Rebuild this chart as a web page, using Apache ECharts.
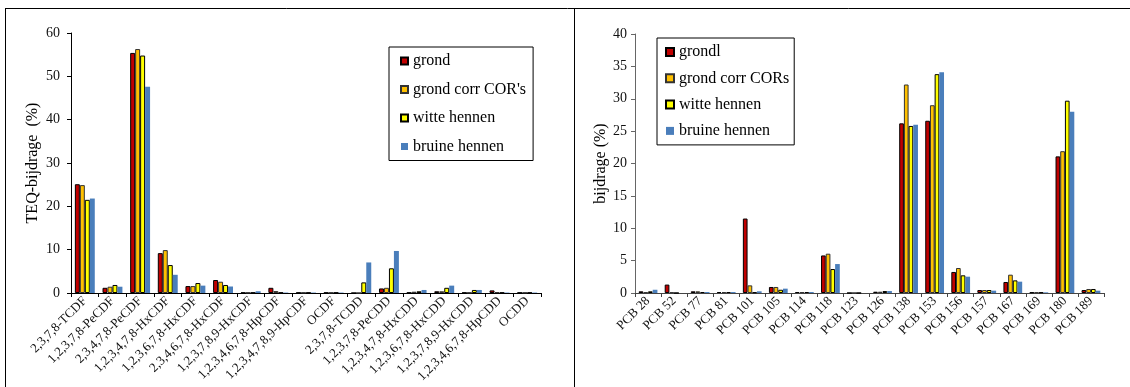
<!DOCTYPE html>
<html>
<head>
<meta charset="utf-8">
<script src="https://cdn.jsdelivr.net/npm/echarts@6/dist/echarts.min.js"></script>
<style>
html,body{margin:0;padding:0;background:#fff;}
#chart{width:1130px;height:387px;}
</style>
</head>
<body>
<div id="chart"></div>
<script>
const leftCategories = ['2,3,7,8-TCDF','1,2,3,7,8-PeCDF','2,3,4,7,8-PeCDF','1,2,3,4,7,8-HxCDF','1,2,3,6,7,8-HxCDF','2,3,4,6,7,8-HxCDF','1,2,3,7,8,9-HxCDF','1,2,3,4,6,7,8-HpCDF','1,2,3,4,7,8,9-HpCDF','OCDF','2,3,7,8-TCDD','1,2,3,7,8-PeCDD','1,2,3,4,7,8-HxCDD','1,2,3,6,7,8-HxCDD','1,2,3,7,8,9-HxCDD','1,2,3,4,6,7,8-HpCDD','OCDD'];
const leftGrond  = [25.1, 1.2, 55.4, 9.2, 1.6, 3.0, 0.1, 1.2, 0.1, 0.1, 0, 1.05, 0.1, 0.4, 0.1, 0.6, 0.1];
const leftCorr   = [24.9, 1.45, 56.3, 9.9, 1.6, 2.6, 0.1, 0.45, 0.1, 0.1, 0, 1.2, 0.3, 0.4, 0.1, 0.2, 0.1];
const leftWitte  = [21.5, 1.85, 54.8, 6.45, 2.3, 1.85, 0.1, 0.1, 0.1, 0.1, 2.45, 5.7, 0.4, 1.2, 0.7, 0.1, 0.1];
const leftBruine = [21.8, 1.45, 47.6, 4.2, 1.7, 1.5, 0.4, 0.1, 0.1, 0.1, 7.05, 9.7, 0.7, 1.7, 0.7, 0.1, 0.1];
const leftNames  = ['grond', "grond corr COR's", 'witte hennen', 'bruine hennen'];
const leftTicks  = {min: 0, max: 60, interval: 10};

const rightCategories = ['PCB 28','PCB 52','PCB 77','PCB 81','PCB 101','PCB 105','PCB 114','PCB 118','PCB 123','PCB 126','PCB 138','PCB 153','PCB 156','PCB 157','PCB 167','PCB 169','PCB 180','PCB 189'];
const rightGrondl = [0.26, 1.3, 0.26, 0.15, 11.5, 0.93, 0.15, 5.8, 0, 0.2, 26.2, 26.6, 3.25, 0.46, 1.7, 0.1, 21.1, 0.46];
const rightCorr   = [0.1, 0.1, 0.26, 0.15, 1.18, 0.93, 0.15, 6.07, 0, 0.2, 32.2, 29.0, 3.86, 0.46, 2.83, 0.1, 21.9, 0.62];
const rightWitte  = [0.26, 0, 0.15, 0.15, 0.1, 0.5, 0.15, 3.7, 0, 0.3, 25.8, 33.8, 2.73, 0.46, 1.95, 0.1, 29.7, 0.62];
const rightBruine = [0.5, 0, 0.15, 0.15, 0.26, 0.67, 0.15, 4.47, 0, 0.3, 26.0, 34.1, 2.52, 0.36, 1.75, 0.1, 28.0, 0.36];
const rightNames  = ['grondl', 'grond corr CORs', 'witte hennen', 'bruine hennen'];
const rightTicks  = {min: 0, max: 40, interval: 5};

const FONT = "'Liberation Serif', 'Times New Roman', serif";
const colors = ['#C00000', '#FFC000', '#FFFF00', '#4A7EBB'];
const borders = ['#000', '#333', '#000', null];

function mkSeries(names, datas, xi) {
  return names.map((n, i) => ({
    name: n, type: 'bar', xAxisIndex: xi, yAxisIndex: xi,
    data: datas[i],
    barGap: '0%', barCategoryGap: '28%',
    itemStyle: borders[i] ? {color: colors[i], borderColor: borders[i], borderWidth: 1} : {color: colors[i]},
    emphasis: {disabled: true}
  }));
}

function xAxis(cats, gi, lc) {
  return {
    type: 'category', gridIndex: gi, data: cats,
    axisLine: {lineStyle: {color: lc, width: 1}},
    axisTick: {show: true, length: 4, lineStyle: {color: lc}},
    axisLabel: {rotate: 45, fontFamily: FONT, fontSize: 13, color: '#111', margin: 6, interval: 0}
  };
}
function yAxis(t, gi, name, gap, lc, margin) {
  return {
    type: 'value', gridIndex: gi, min: t.min, max: t.max, interval: t.interval,
    name: name, nameLocation: 'middle', nameGap: gap, nameRotate: 90,
    nameTextStyle: {fontFamily: FONT, fontSize: 16, color: '#000'},
    splitLine: {show: false},
    axisLine: {show: true, lineStyle: {color: lc, width: 1}},
    axisTick: {show: true, length: 4, lineStyle: {color: lc}},
    axisLabel: {fontFamily: FONT, fontSize: 14, color: '#111', margin: margin}
  };
}

const chart = echarts.init(document.getElementById('chart'), null, {renderer: 'canvas'});
chart.setOption({
  animation: false,
  backgroundColor: '#fff',
  grid: [
    {left: 71, right: 589, top: 33, bottom: 94},
    {left: 635, right: 26, top: 34, bottom: 94}
  ],
  xAxis: [xAxis(leftCategories, 0, '#000'), xAxis(rightCategories, 1, '#444')],
  yAxis: [yAxis(leftTicks, 0, 'TEQ-bijdrage  (%)', 30, '#000', 11), yAxis(rightTicks, 1, 'bijdrage (%)', 26, '#666', 8)],
  legend: [
    {
      data: leftNames, orient: 'vertical', left: 389, top: 47,
      itemWidth: 7, itemHeight: 7, itemGap: 12.5, padding: [6, 7, 6, 11],
      borderColor: '#000', borderWidth: 1, icon: 'rect',
      textStyle: {fontFamily: FONT, fontSize: 16, color: '#000', lineHeight: 16},
      selectedMode: false
    },
    {
      data: rightNames, orient: 'vertical', left: 657, top: 38,
      itemWidth: 8, itemHeight: 8, itemGap: 10.3, padding: [6, 5, 6, 8],
      borderColor: '#000', borderWidth: 1, icon: 'rect',
      textStyle: {fontFamily: FONT, fontSize: 16, color: '#000', lineHeight: 16},
      selectedMode: false
    }
  ],
  graphic: [
    {type: 'line', shape: {x1: 5, y1: 8.5, x2: 1130, y2: 8.5}, style: {stroke: '#000', lineWidth: 1}},
    {type: 'line', shape: {x1: 5.5, y1: 8, x2: 5.5, y2: 387}, style: {stroke: '#000', lineWidth: 1}},
    {type: 'line', shape: {x1: 574.5, y1: 8, x2: 574.5, y2: 387}, style: {stroke: '#000', lineWidth: 1}}
  ],
  series: [].concat(
    mkSeries(leftNames, [leftGrond, leftCorr, leftWitte, leftBruine], 0),
    mkSeries(rightNames, [rightGrondl, rightCorr, rightWitte, rightBruine], 1)
  )
});
</script>
</body>
</html>
